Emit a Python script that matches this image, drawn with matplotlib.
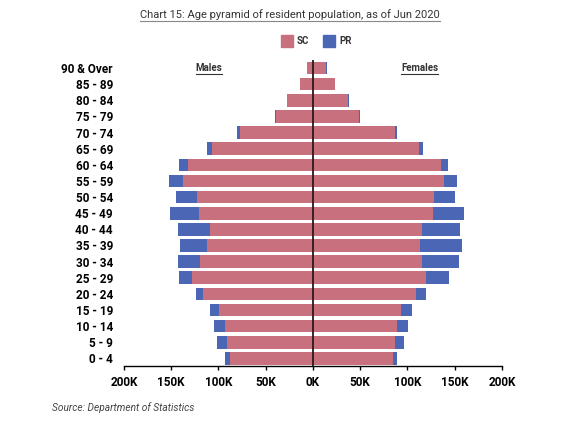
import matplotlib.pyplot as plt
from matplotlib.patches import Rectangle
from matplotlib.lines import Line2D

# Data (thousands), listed top to bottom
ages = ["90 & Over", "85 - 89", "80 - 84", "75 - 79", "70 - 74", "65 - 69", "60 - 64",
        "55 - 59", "50 - 54", "45 - 49", "40 - 44", "35 - 39", "30 - 34", "25 - 29",
        "20 - 24", "15 - 19", "10 - 14", "5 - 9", "0 - 4"]
male_sc = [6.5, 13.8, 27, 39.5, 77, 106.5, 132.6, 137.9, 123, 120.6, 109, 112.5,
           119.6, 128, 116.7, 99.5, 93.1, 91.3, 87.8]
male_pr = [0.3, 0.3, 0.5, 0.7, 3.7, 6, 8.8, 14.8, 22.3, 30.7, 33.5, 28.2,
           22.9, 13.8, 7.4, 9.8, 11.7, 9.9, 5.3]
female_sc = [14.2, 23, 37, 48.7, 86.4, 111.8, 135.9, 139, 128, 127, 115, 113.6,
             115.3, 120, 108.7, 93.5, 88.6, 86.4, 84.3]
female_pr = [0.3, 0.4, 1, 1, 2.2, 4.2, 6.6, 13, 21.9, 32.4, 41, 44.1,
             38.9, 23.9, 10.9, 11.3, 12.3, 9.9, 5]
ticks = [-200, -150, -100, -50, 0, 50, 100, 150, 200]

sc_color = '#C9707E'
pr_color = '#4A66B4'
plt.rcParams['font.family'] = 'Roboto'

fig = plt.figure(figsize=(5.86, 4.26), dpi=100)
ax = fig.add_axes([0.2116, 0.1397, 0.645, 0.7195])

y = range(len(ages))
h = 0.78
ax.barh(y, [-v for v in male_sc], height=h, color=sc_color)
ax.barh(y, [-v for v in male_pr], left=[-v for v in male_sc], height=h, color=pr_color)
ax.barh(y, female_sc, height=h, color=sc_color)
ax.barh(y, female_pr, left=female_sc, height=h, color=pr_color)
ax.axvline(0, color='#2a1a1a', lw=1.3, zorder=5)

ax.set_ylim(len(ages) - 0.5, -0.5)
ax.set_xlim(-200, 200)
ax.set_yticks(list(y))
ax.set_yticklabels(ages, fontsize=8.5, fontweight='bold')
ax.tick_params(axis='y', length=0, pad=8)
ax.set_xticks(ticks)
ax.set_xticklabels([f'{abs(t)}K' for t in ticks], fontsize=8.5, fontweight='bold')
ax.tick_params(axis='x', length=3, width=1, pad=4)
for s in ['top', 'right', 'left']:
    ax.spines[s].set_visible(False)
ax.spines['bottom'].set_linewidth(1)

ax.text(-110, 0, 'Males', ha='center', va='center', fontsize=7, fontweight='bold',
        color='#333333')
ax.text(113, 0, 'Females', ha='center', va='center', fontsize=7, fontweight='bold',
        color='#333333')

# Title
title = fig.text(290, 426 - 15, 'Chart 15: Age pyramid of resident population, as of Jun 2020',
                 ha='center', va='center', fontsize=8, color='#333333',
                 transform=None)

# Legend
for x0, lab, col in [(281, 'SC', sc_color), (323, 'PR', pr_color)]:
    fig.patches.append(Rectangle((x0 / 586, (426 - 47) / 426), 12 / 586, 12 / 426,
                                 transform=fig.transFigure, color=col))
    fig.text((x0 + 16) / 586, (426 - 41) / 426, lab, ha='left', va='center',
             fontsize=7, fontweight='bold', color='#333333')

fig.text(52 / 586, (426 - 408) / 426, 'Source: Department of Statistics',
         ha='left', va='center', fontsize=7.3, style='italic', color='#444444')

# underline texts
fig.canvas.draw()
r = fig.canvas.get_renderer()
for t, c in [(title, '#888888')] + [(tt, '#333333') for tt in ax.texts]:
    bb = t.get_window_extent(r)
    fig.add_artist(Line2D([bb.x0 / 586, bb.x1 / 586], [(bb.y0 - 1) / 426] * 2,
                          transform=fig.transFigure, color=c, lw=0.8))

fig.savefig('out.png', dpi=100)
